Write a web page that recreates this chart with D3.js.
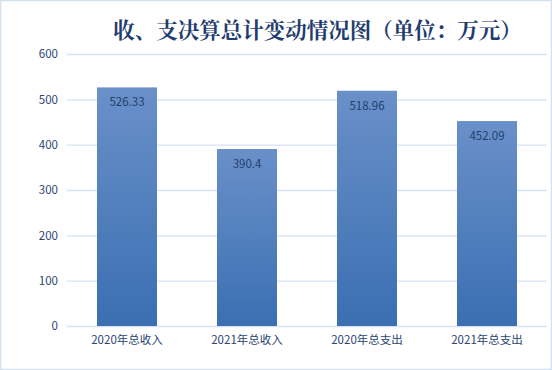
<!DOCTYPE html>
<html><head><meta charset="utf-8">
<script src="https://cdn.jsdelivr.net/npm/d3@7"></script>
<style>body{margin:0;background:#fff}svg{display:block}</style>
</head><body>
<script>
const categories = ["2020年总收入","2021年总收入","2020年总支出","2021年总支出"];
const values = [526.33, 390.4, 518.96, 452.09];
const valueLabels = ["526.33","390.4","518.96","452.09"];
const yTicks = [0,100,200,300,400,500,600];
const title = "收、支决算总计变动情况图（单位：万元）";

const W = 552, H = 370;
const svg = d3.select("body").append("svg").attr("width", W).attr("height", H);
const defs = svg.append("defs");
const g = defs.append("linearGradient").attr("id","bg").attr("x1",0).attr("y1",0).attr("x2",0).attr("y2",1);
g.append("stop").attr("offset","0%").attr("stop-color","#6a90c9");
g.append("stop").attr("offset","100%").attr("stop-color","#3a6fb2");

svg.append("rect").attr("x",0.5).attr("y",0.5).attr("width",W-1).attr("height",H-1)
  .attr("fill","#fff").attr("stroke","#d3e1f1").attr("stroke-width",1.5);

const x = d3.scaleBand().domain(categories).range([67,547]).paddingInner(0.5).paddingOuter(0.25);
const y = d3.scaleLinear().domain([0,600]).range([326,54]);

const fontFam = "'Noto Sans CJK SC','Microsoft YaHei',sans-serif";
const yAxis = svg.append("g").attr("transform","translate(67,0)")
  .call(d3.axisLeft(y).tickValues(yTicks).tickSize(-480).tickPadding(9));
yAxis.select(".domain").remove();
yAxis.selectAll(".tick line").attr("stroke","#d6e2f2").attr("stroke-width",1.3);
yAxis.selectAll(".tick text").attr("fill","#2b4472").attr("font-size",11.5).attr("font-family",fontFam);

const xAxis = svg.append("g").attr("transform","translate(0,326)")
  .call(d3.axisBottom(x).tickSize(0).tickPadding(10));
xAxis.select(".domain").remove();
xAxis.selectAll(".tick text").attr("fill","#2b4472").attr("font-size",11.5).attr("font-family",fontFam);

svg.append("g").selectAll("rect").data(values).join("rect")
  .attr("x",(d,i)=>x(categories[i])).attr("width",x.bandwidth())
  .attr("y",d=>y(d)).attr("height",d=>y(0)-y(d)).attr("fill","url(#bg)");

svg.append("g").selectAll("text").data(values).join("text")
  .attr("x",(d,i)=>x(categories[i])+x.bandwidth()/2).attr("y",d=>y(d)+19)
  .attr("text-anchor","middle").attr("font-size",11.5).attr("font-family",fontFam)
  .attr("fill","#243f6e").text((d,i)=>valueLabels[i]);

svg.append("text").attr("x",317.5).attr("y",38).attr("text-anchor","middle")
  .attr("font-size",21.5).attr("font-weight","bold").attr("font-family","'Noto Serif CJK SC','Noto Sans CJK SC',serif")
  .attr("fill","#1f3c6e").text(title);
</script>
</body></html>
